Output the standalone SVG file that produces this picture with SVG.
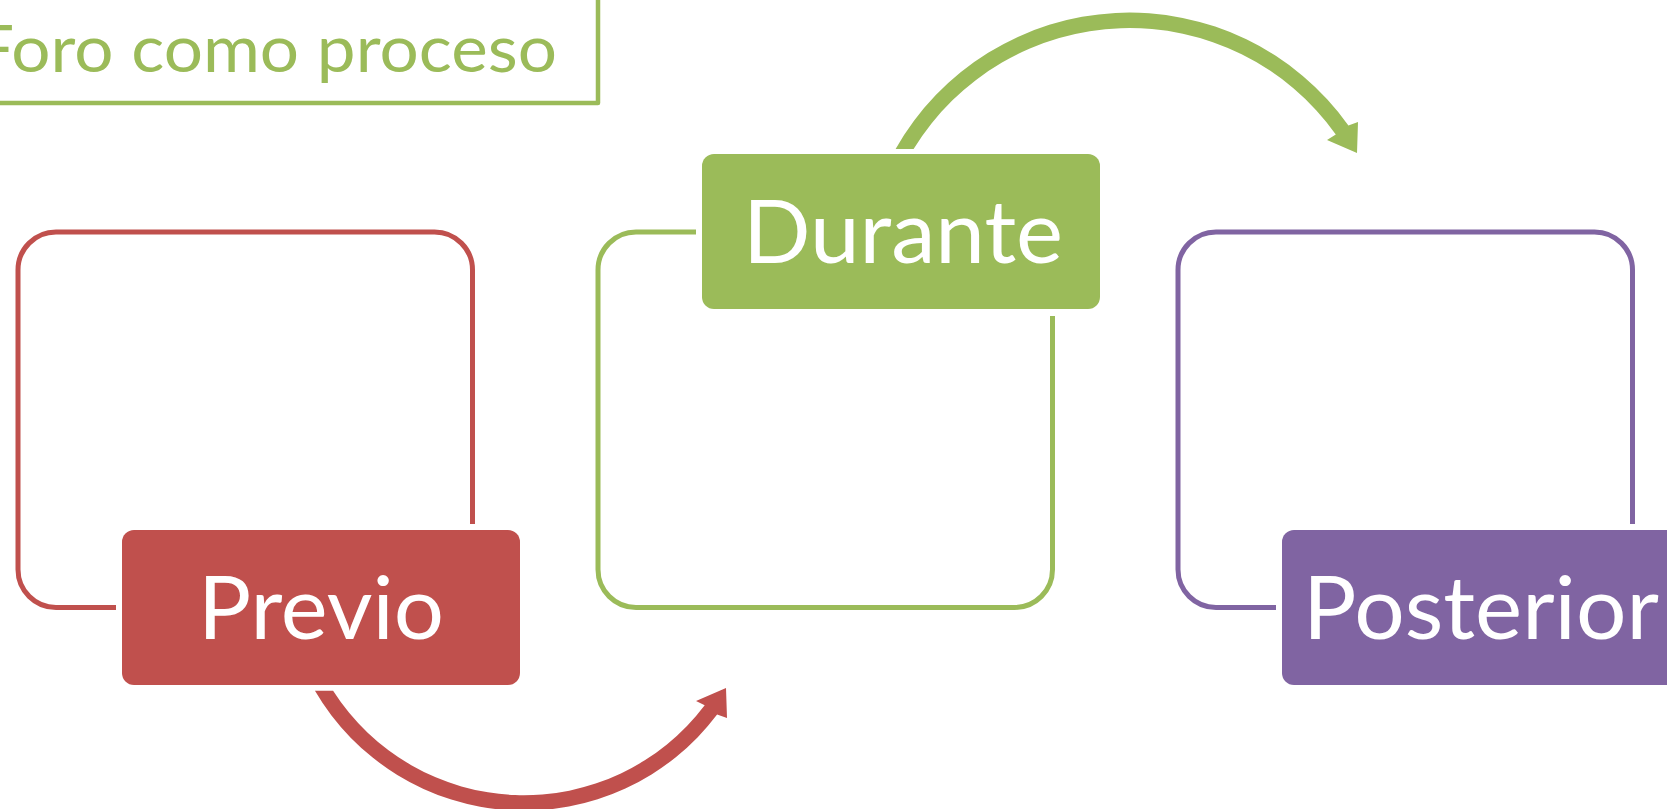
<svg xmlns="http://www.w3.org/2000/svg" width="1667" height="809" viewBox="0 0 1667 809">
  <style>
    .outline { fill: none; stroke-width: 5; stroke-linecap: butt; }
    .label { font-family: Lato, "Open Sans", sans-serif; font-size: 88px; fill: #FFFFFF; text-anchor: middle; }
    .title { font-family: Lato, "Open Sans", sans-serif; font-size: 66px; fill: #9BBB59; }
    .red { stroke: #C0504D; }
    .green { stroke: #9BBB59; }
    .purple { stroke: #8064A2; }
  </style>
  <rect x="0" y="0" width="1667" height="809" fill="#FFFFFF"/>

  <g id="title">
    <path d="M 598,-5 V 103 H -5" fill="none" stroke="#9BBB59" stroke-width="4.5" stroke-linejoin="round"/>
    <text class="title" x="-25" y="72" textLength="582" lengthAdjust="spacingAndGlyphs">Foro como proceso</text>
  </g>

  <g id="connectors">
    <path id="arrow-previo-durante" fill="#C0504D" d="M 314.95,690.7 A 242.05 242.05 0 0 0 717.1,714.6 L 727,718 L 726,688 L 696,701 L 704.7,705.3 A 226.55 226.55 0 0 1 333.1,690.7 Z"/>
    <path id="arrow-durante-posterior" fill="#9BBB59" d="M 895.6,149 A 268.75 268.75 0 0 1 1348.4,125.4 L 1358,122 L 1357,153 L 1327,140 L 1335.8,134.4 A 253.25 253.25 0 0 0 913.6,149 Z"/>
  </g>

  <g id="previo">
    <path class="outline red" d="M 472.5,524 V 270 A 38 38 0 0 0 434.5,232 H 56 A 38 38 0 0 0 18,270 V 569.5 A 38 38 0 0 0 56,607.5 H 116"/>
    <rect x="122" y="530" width="398" height="155" rx="12" ry="12" fill="#C0504D"/>
    <text class="label" x="321" y="639" textLength="246" lengthAdjust="spacingAndGlyphs">Previo</text>
  </g>

  <g id="durante">
    <path class="outline green" d="M 696,232 H 636 A 38 38 0 0 0 598,270 V 569.5 A 38 38 0 0 0 636,607.5 H 1014.5 A 38 38 0 0 0 1052.5,569.5 V 316"/>
    <rect x="702" y="154" width="398" height="155" rx="12" ry="12" fill="#9BBB59"/>
    <text class="label" x="903" y="263" textLength="320" lengthAdjust="spacingAndGlyphs">Durante</text>
  </g>

  <g id="posterior">
    <path class="outline purple" d="M 1632.5,524 V 270 A 38 38 0 0 0 1594.5,232 H 1216 A 38 38 0 0 0 1178,270 V 569.5 A 38 38 0 0 0 1216,607.5 H 1276"/>
    <rect x="1282" y="530" width="398" height="155" rx="12" ry="12" fill="#8064A2"/>
    <text class="label" x="1481" y="639" textLength="356" lengthAdjust="spacingAndGlyphs">Posterior</text>
  </g>
</svg>
